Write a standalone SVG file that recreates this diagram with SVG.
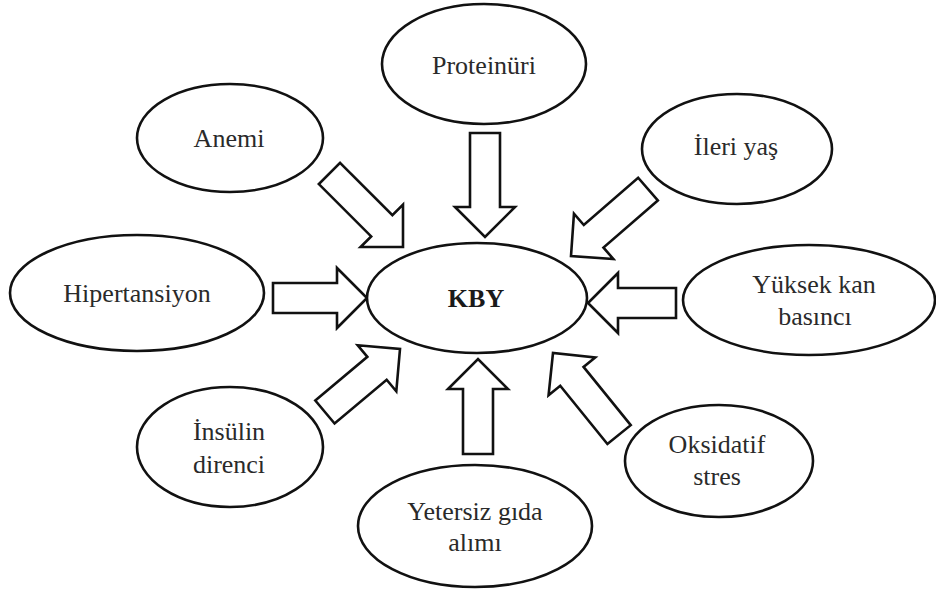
<svg xmlns="http://www.w3.org/2000/svg" width="936" height="590" viewBox="0 0 936 590">
<style>
.node ellipse{fill:#fff;stroke:#111;stroke-width:2.6}
.node text{font-family:"Liberation Serif","Times New Roman",serif;font-size:26px;fill:#2a2a2a;text-anchor:middle}
.node text.b{font-weight:bold;fill:#1a1a1a}
.arrows path{fill:#fff;stroke:#111;stroke-width:2.6;stroke-linejoin:miter}
</style>
<rect width="936" height="590" fill="#fff"/>
<g id="connectors" class="arrows">
<path id="a-proteinuri" transform="translate(485,237) rotate(90)" d="M-104,-15H-30V-30L0,0L-30,30V15H-104Z"/>
<path id="a-anemi" transform="translate(403,247) rotate(45)" d="M-104,-15H-30V-30L0,0L-30,30V15H-104Z"/>
<path id="a-ileri" transform="translate(571,256) rotate(139)" d="M-102,-15H-30V-30L0,0L-30,30V15H-102Z"/>
<path id="a-hipertansiyon" transform="translate(367,298)" d="M-94,-15H-30V-30L0,0L-30,30V15H-94Z"/>
<path id="a-yuksek" transform="translate(588,303) rotate(180)" d="M-88,-15H-30V-30L0,0L-30,30V15H-88Z"/>
<path id="a-insulin" transform="translate(400,349) rotate(-40)" d="M-98,-15H-30V-30L0,0L-30,30V15H-98Z"/>
<path id="a-yetersiz" transform="translate(478,359) rotate(-90)" d="M-95,-15H-30V-30L0,0L-30,30V15H-95Z"/>
<path id="a-oksidatif" transform="translate(553,353) rotate(-129)" d="M-105,-15H-30V-30L0,0L-30,30V15H-105Z"/>
</g>
<g id="kby" class="node"><ellipse cx="477" cy="298" rx="110" ry="55"/><text class="b" x="476" y="307">KBY</text></g>
<g id="proteinuri" class="node"><ellipse cx="484" cy="64" rx="102" ry="60"/><text x="484" y="74">Proteinüri</text></g>
<g id="anemi" class="node"><ellipse cx="230" cy="138" rx="93" ry="54"/><text x="229" y="147">Anemi</text></g>
<g id="ileri-yas" class="node"><ellipse cx="737" cy="149" rx="95" ry="55"/><text x="736" y="155">İleri yaş</text></g>
<g id="hipertansiyon" class="node"><ellipse cx="137" cy="293" rx="127" ry="58"/><text x="137" y="302">Hipertansiyon</text></g>
<g id="yuksek-kan-basinci" class="node"><ellipse cx="809" cy="300" rx="126" ry="55"/><text x="814" y="293">Yüksek kan</text><text x="815" y="325">basıncı</text></g>
<g id="insulin-direnci" class="node"><ellipse cx="230" cy="447" rx="93" ry="60"/><text x="229" y="440">İnsülin</text><text x="229" y="473">direnci</text></g>
<g id="yetersiz-gida-alimi" class="node"><ellipse cx="475" cy="526" rx="117" ry="61"/><text x="475" y="520">Yetersiz gıda</text><text x="475" y="551">alımı</text></g>
<g id="oksidatif-stres" class="node"><ellipse cx="719" cy="461" rx="94" ry="56"/><text x="717" y="453">Oksidatif</text><text x="717" y="485">stres</text></g>
</svg>
